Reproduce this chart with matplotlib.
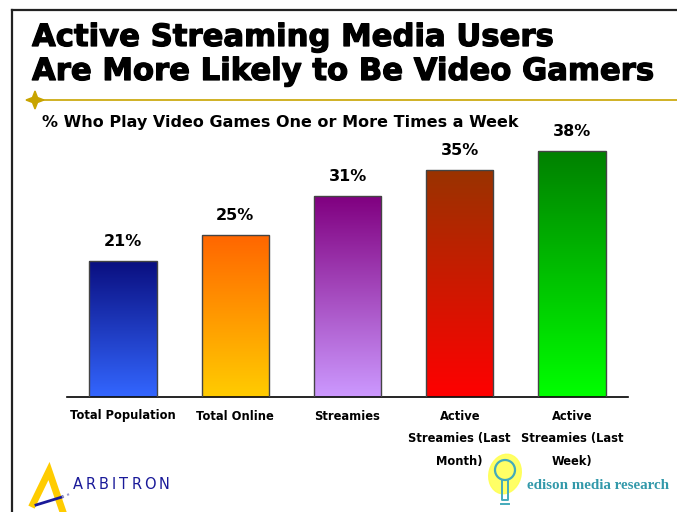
import numpy as np
import matplotlib.pyplot as plt
import matplotlib.patheffects as pe
from matplotlib.colors import LinearSegmentedColormap
from matplotlib.patches import Polygon, Ellipse, Circle

categories = ['Total Population', 'Total Online', 'Streamies',
              'Active\nStreamies (Last\nMonth)', 'Active\nStreamies (Last\nWeek)']
values = [21, 25, 31, 35, 38]
# gradient colours per bar: (top, bottom)
grad_colors = [('#0a0f80', '#3366ff'),
               ('#ff6600', '#ffcc00'),
               ('#800080', '#cc99ff'),
               ('#993300', '#ff0000'),
               ('#008000', '#00ff00')]

title_lines = ['Active Streaming Media Users', 'Are More Likely to Be Video Gamers']
subtitle = '% Who Play Video Games One or More Times a Week'

plt.rcParams['font.family'] = ['DejaVu Sans']

W, H = 677, 512
fig = plt.figure(figsize=(W / 100, H / 100), dpi=100)

# background layer in pixel coordinates for frame, rules and logos
bg = fig.add_axes([0, 0, 1, 1])
bg.set_xlim(0, W)
bg.set_ylim(H, 0)
bg.axis('off')

bg.plot([12, W], [10, 10], color='#222222', lw=1.6)
bg.plot([12, 12], [10, H], color='#222222', lw=1.6)
bg.plot([35, W], [100, 100], color='#c8a400', lw=1.2)
star = [(35, 91), (37.5, 97.5), (44, 100), (37.5, 102.5),
        (35, 109), (32.5, 102.5), (26, 100), (32.5, 97.5)]
bg.add_patch(Polygon(star, closed=True, color='#c8a400'))

heavy = [pe.withStroke(linewidth=0.9, foreground='black')]
for line, yb in zip(title_lines, [46, 80]):
    bg.text(32, yb, line, fontsize=22.1, fontweight='bold', va='baseline',
            ha='left', path_effects=heavy)
bg.text(42, 127, subtitle, fontsize=11.5, fontweight='bold', va='baseline', ha='left')


def spaced_text(ax, x0, y, s, gap, **kw):
    # draw a string letter by letter with extra tracking (in pixels)
    r = fig.canvas.get_renderer()
    x = x0
    for ch in s:
        t = ax.text(x, y, ch, ha='left', **kw)
        x += t.get_window_extent(renderer=r).width + gap


# Arbitron logo
bg.plot([33, 49, 63], [504, 471, 512], color='#ffcc00', lw=5, solid_joinstyle='miter')
bg.plot([36, 62], [505, 497], color='#1a1a99', lw=2)
bg.plot([62, 72], [497, 493], color='#9999cc', lw=1.5, ls=':')
spaced_text(bg, 73, 489, 'ARBITRON', 3.0, fontsize=10.5, color='#1a1a99',
            va='baseline')

# Edison logo
bg.add_patch(Ellipse((505, 474), 32, 40, angle=15, color='#ffff55', alpha=0.9))
bg.add_patch(Circle((505, 470), 10, fill=False, ec='#44aabb', lw=1.6))
bg.plot([502, 502, 508, 508], [480, 500, 500, 480], color='#44aabb', lw=1.4)
bg.plot([501, 509], [504, 504], color='#44aabb', lw=1.4)
bg.text(527, 489, 'edison media research', fontsize=10.8, color='#3399aa',
        family='Liberation Serif', fontweight='bold', va='baseline', ha='left')

# bar chart
ax = fig.add_axes([67 / W, (H - 397) / H, 561 / W, 259 / H])
x = np.arange(len(values))
bars = ax.bar(x, values, width=0.6, facecolor='none', edgecolor='#444444',
              linewidth=1.0, zorder=3)

for b, (top, bottom), v in zip(bars, grad_colors, values):
    cmap = LinearSegmentedColormap.from_list('g', [bottom, top])
    x0, w = b.get_x(), b.get_width()
    grad = np.linspace(0, 1, 256).reshape(-1, 1)
    im = ax.imshow(grad, cmap=cmap, aspect='auto', origin='lower',
                   extent=[x0, x0 + w, 0, v], zorder=2)
    im.set_clip_path(b)
    ax.annotate(f'{v}%', (x0 + w / 2, v), xytext=(0, 11), textcoords='offset points',
                ha='center', va='baseline', fontsize=11.5, fontweight='bold')

ax.set_xlim(-0.5, 4.5)
ax.set_ylim(0, 40)
for s in ['top', 'right', 'left']:
    ax.spines[s].set_visible(False)
ax.spines['bottom'].set_linewidth(1.2)
ax.set_yticks([])
ax.set_xticks(x)
ax.set_xticklabels(categories, fontsize=8.3, fontweight='bold', linespacing=1.98)
ax.tick_params(axis='x', length=0, pad=9)
ax.patch.set_alpha(0)

fig.savefig('out.png', dpi=100)
